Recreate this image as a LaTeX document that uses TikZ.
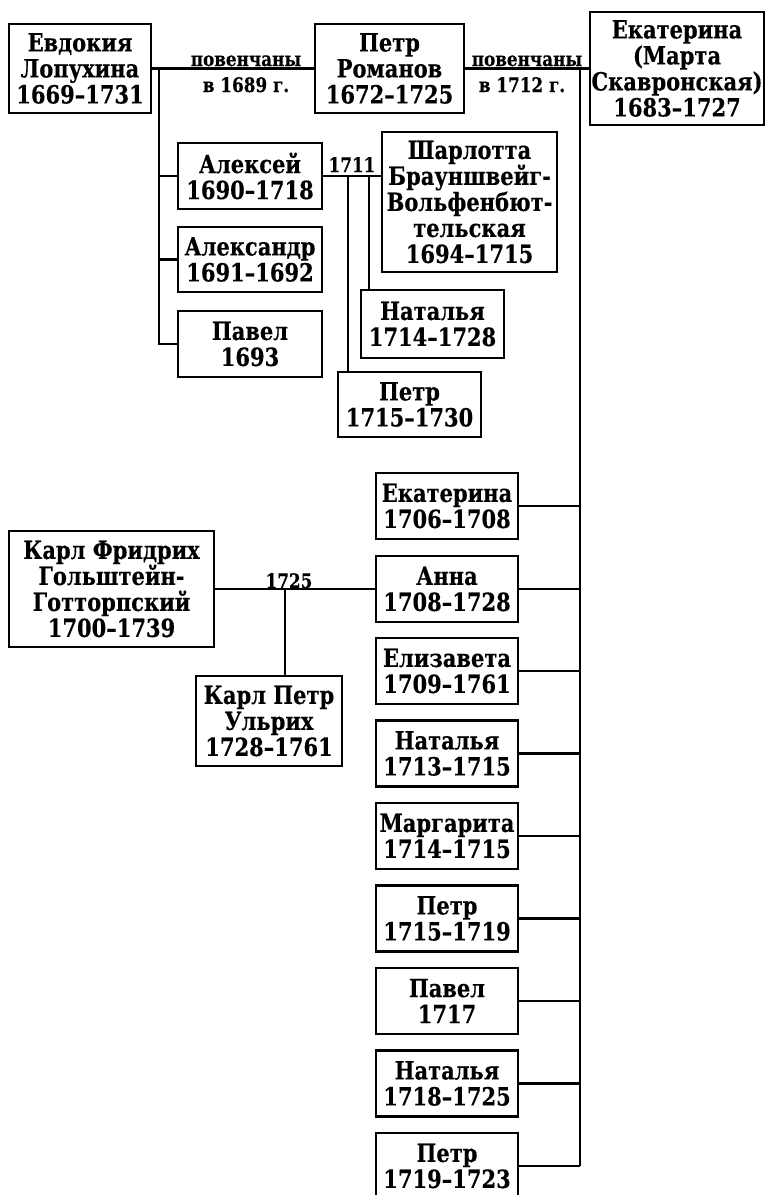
\documentclass[tikz,border=0pt]{standalone}
\usepackage{fontspec}
\setmainfont{DejaVu Serif}[FakeStretch=0.84,BoldFeatures={FakeBold=0.3}]
\begin{document}
\begin{tikzpicture}[x=1pt,y=-1pt,
  bx/.style={draw=black, line width=2.8pt, inner sep=0pt, align=center,
    font=\fontsize{25}{26}\selectfont\bfseries},
  lbl/.style={inner sep=0pt, font=\fontsize{20}{21}\selectfont\bfseries},
  ln/.style={line width=2.2pt}]
\useasboundingbox (0,0) rectangle (765,1195);
\clip (0,0) rectangle (765,1195);
% top row
\node[bx, minimum width=142pt, minimum height=89pt] (ev) at (80,68.5) {Евдокия\\Лопухина\\1669–1731};
\node[bx, minimum width=149pt, minimum height=89pt] (pe) at (389.5,68.5) {Петр\\Романов\\1672–1725};
\node[bx, minimum width=174pt, minimum height=113pt] (ek) at (677,68.5) {Екатерина\\(Марта\\Скавронская)\\1683–1727};
% children of Evdokia
\node[bx, minimum width=144pt, minimum height=66pt] (al) at (250,176) {Алексей\\1690–1718};
\node[bx, minimum width=144pt, minimum height=65pt] (as) at (250,259.5) {Александр\\1691–1692};
\node[bx, minimum width=144pt, minimum height=66pt] (pa) at (250,344) {Павел\\1693};
\node[bx, minimum width=175pt, minimum height=140pt] (sh) at (469.5,202) {Шарлотта\\Брауншвейг-\\Вольфенбют-\\тельская\\1694–1715};
\node[bx, minimum width=143pt, minimum height=68pt] (na) at (432.5,324) {Наталья\\1714–1728};
\node[bx, minimum width=143pt, minimum height=65pt] (pt) at (409.5,404.5) {Петр\\1715–1730};
% Karl
\node[bx, minimum width=205pt, minimum height=116pt] (kf) at (111.5,589) {Карл Фридрих\\Гольштейн-\\Готторпский\\1700–1739};
\node[bx, minimum width=146pt, minimum height=90pt] (kp) at (269,721) {Карл Петр\\Ульрих\\1728–1761};
% children of Ekaterina
\node[bx, minimum width=142pt, minimum height=66pt] (c1) at (447,506) {Екатерина\\1706–1708};
\node[bx, minimum width=142pt, minimum height=66pt] (c2) at (447,589) {Анна\\1708–1728};
\node[bx, minimum width=142pt, minimum height=66pt] (c3) at (447,671) {Елизавета\\1709–1761};
\node[bx, minimum width=142pt, minimum height=66pt] (c4) at (447,753.5) {Наталья\\1713–1715};
\node[bx, minimum width=142pt, minimum height=66pt] (c5) at (447,836) {Маргарита\\1714–1715};
\node[bx, minimum width=142pt, minimum height=66pt] (c6) at (447,918.5) {Петр\\1715–1719};
\node[bx, minimum width=142pt, minimum height=66pt] (c7) at (447,1001) {Павел\\1717};
\node[bx, minimum width=142pt, minimum height=66pt] (c8) at (447,1083.5) {Наталья\\1718–1725};
\node[bx, minimum width=142pt, minimum height=66pt] (c9) at (447,1166) {Петр\\1719–1723};
% marriages
\draw[ln] (ev.east) -- (pe.west);
\draw[ln] (pe.east) -- (ek.west);
\node[lbl, anchor=base] (l1a) at (246,66) {повенчаны};
\node[lbl, anchor=base] (l1b) at (246,92) {в 1689 г.};
\node[lbl, anchor=base] (l2a) at (527,66) {повенчаны};
\node[lbl, anchor=base] (l2b) at (522,92) {в 1712 г.};
% Evdokia's children
\coordinate (j1) at (159,68.5);
\draw[ln] (j1) |- (al.west);
\draw[ln] (j1) |- (as.west);
\draw[ln] (j1) |- (pa.west);
% Aleksei + Charlotte
\draw[ln] (al.east) -- (al.east -| sh.west);
\node[lbl, anchor=base] (l3) at (352,172) {1711};
\coordinate (v1) at (348,176);
\coordinate (v2) at (369,176);
\draw[ln] (v1) -- (v1 |- pt.north);
\draw[ln] (v2) -- (v2 |- na.north);
% Ekaterina's children
\coordinate (j2) at (580,68.5);
\draw[ln] (j2) -- (j2 |- c9.east);
\foreach \c in {c1,c2,c3,c4,c5,c6,c7,c8,c9} {\draw[ln] (\c.east) -- (\c.east -| j2);}
% Anna + Karl Friedrich
\draw[ln] (kf.east) -- (c2.west);
\node[lbl, anchor=base] (l4) at (289,588) {1725};
\coordinate (m) at (285,589);
\draw[ln] (m) -- (m |- kp.north);
\end{tikzpicture}
\end{document}
